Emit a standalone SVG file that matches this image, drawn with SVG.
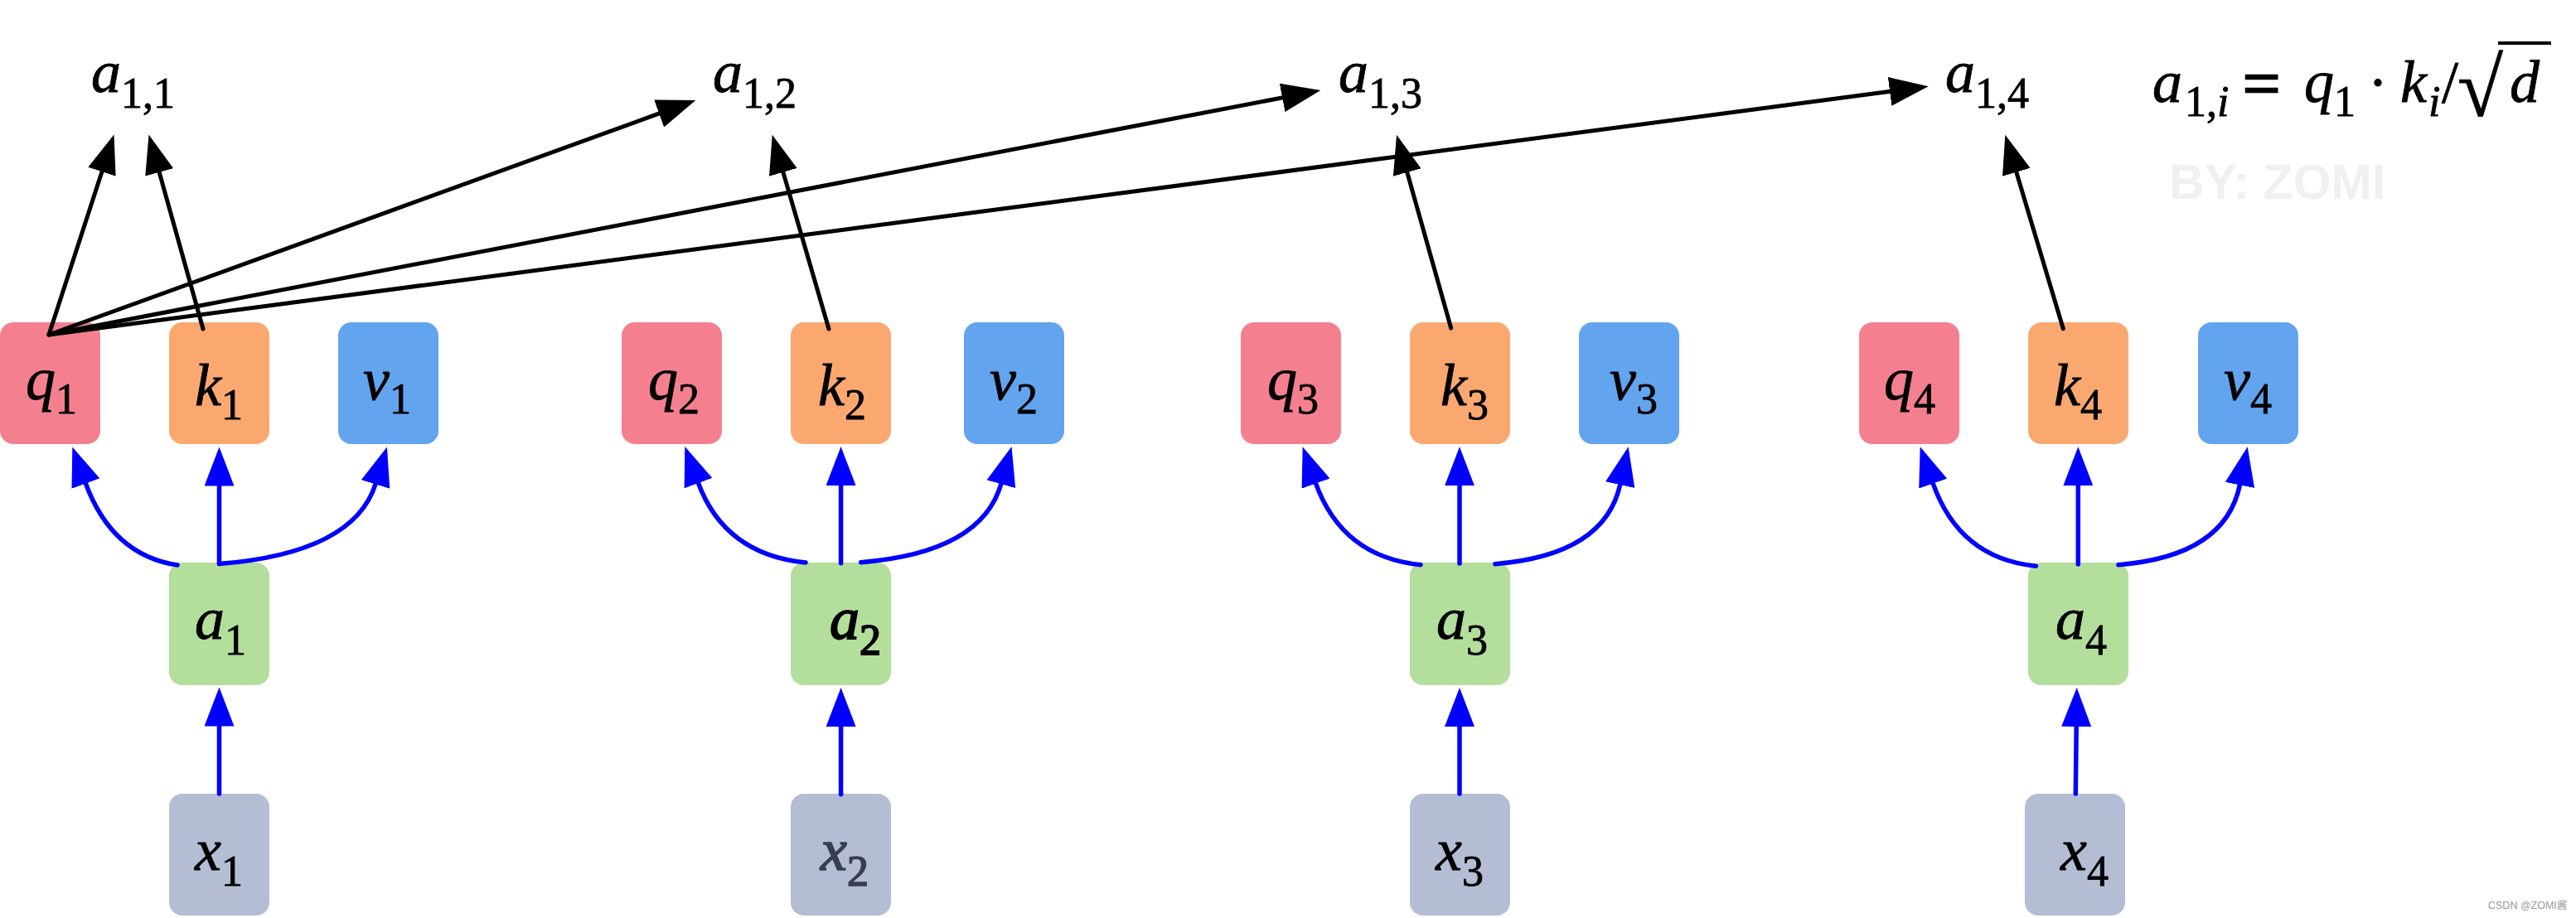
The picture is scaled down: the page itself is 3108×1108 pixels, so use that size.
<svg xmlns="http://www.w3.org/2000/svg" width="3108" height="1108" viewBox="0 0 3108 1108">
<style>
.box{stroke:none}
.q{fill:#F4808F}.k{fill:#FBA870}.v{fill:#62A4EE}.a{fill:#B3DE9C}.x{fill:#B4BDD3}
.t{font-style:italic;font-size:72px;fill:#000;stroke:#000;stroke-width:0.8}
.sub{font-style:normal;font-size:52px}
.blk{fill:none;stroke:#000;stroke-width:5;stroke-linecap:round;marker-end:url(#ahk)}
.blu{fill:none;stroke:#0000FF;stroke-width:5.5;stroke-linecap:round;marker-end:url(#ahb)}
</style>
<defs>
<marker id="ahk" viewBox="0 0 47 35" refX="1" refY="17.5" markerWidth="47" markerHeight="35" markerUnits="userSpaceOnUse" orient="auto"><path d="M0,0 L47,17.5 L0,35 z" fill="#000"/></marker>
<marker id="ahb" viewBox="0 0 47 36" refX="1" refY="18" markerWidth="47" markerHeight="36" markerUnits="userSpaceOnUse" orient="auto"><path d="M0,0 L47,18 L0,36 z" fill="#0000FF"/></marker>
</defs>
<rect width="3108" height="1108" fill="#fff"/>

<g font-family="Liberation Serif, Times New Roman, serif">
<!-- nodes -->
<g id="q1"><rect class="box q" x="0" y="389" width="121" height="147" rx="16"/><text class="t" font-family="Liberation Serif, serif" x="31" y="482">q<tspan class="sub" dy="17">1</tspan></text></g>
<g id="k1"><rect class="box k" x="204" y="389" width="121" height="147" rx="16"/><text class="t" font-family="Liberation Serif, serif" x="235" y="489">k<tspan class="sub" dy="17">1</tspan></text></g>
<g id="v1"><rect class="box v" x="408" y="389" width="121" height="147" rx="16"/><text class="t" font-family="Liberation Serif, serif" x="438" y="482">v<tspan class="sub" dy="17">1</tspan></text></g>
<g id="a1"><rect class="box a" x="204" y="679" width="121" height="148" rx="16"/><text class="t" font-family="Liberation Serif, serif" x="235" y="771">a<tspan class="sub" dy="19">1</tspan></text></g>
<g id="x1"><rect class="box x" x="204" y="958" width="121" height="147" rx="16"/><text class="t" font-family="Liberation Serif, serif" x="235" y="1050">x<tspan class="sub" dy="19">1</tspan></text></g>

<g id="q2"><rect class="box q" x="750" y="389" width="121" height="147" rx="16"/><text class="t" font-family="Liberation Serif, serif" x="782" y="482">q<tspan class="sub" dy="17">2</tspan></text></g>
<g id="k2"><rect class="box k" x="954" y="389" width="121" height="147" rx="16"/><text class="t" font-family="Liberation Serif, serif" x="987" y="489">k<tspan class="sub" dy="17">2</tspan></text></g>
<g id="v2"><rect class="box v" x="1163" y="389" width="121" height="147" rx="16"/><text class="t" font-family="Liberation Serif, serif" x="1194" y="482">v<tspan class="sub" dy="17">2</tspan></text></g>
<g id="a2"><rect class="box a" x="954" y="679" width="121" height="148" rx="16"/><text class="t" font-family="Liberation Serif, serif" x="1001" y="771" style="stroke-width:1.8">a<tspan class="sub" dy="19">2</tspan></text></g>
<g id="x2"><rect class="box x" x="954" y="958" width="121" height="147" rx="16"/><text class="t" font-family="Liberation Serif, serif" x="990" y="1050" style="fill:#383E50;stroke:#383E50;stroke-width:1.6">x<tspan class="sub" dy="19">2</tspan></text></g>

<g id="q3"><rect class="box q" x="1497" y="389" width="121" height="147" rx="16"/><text class="t" font-family="Liberation Serif, serif" x="1529" y="482">q<tspan class="sub" dy="17">3</tspan></text></g>
<g id="k3"><rect class="box k" x="1701" y="389" width="121" height="147" rx="16"/><text class="t" font-family="Liberation Serif, serif" x="1738" y="489">k<tspan class="sub" dy="17">3</tspan></text></g>
<g id="v3"><rect class="box v" x="1905" y="389" width="121" height="147" rx="16"/><text class="t" font-family="Liberation Serif, serif" x="1942" y="482">v<tspan class="sub" dy="17">3</tspan></text></g>
<g id="a3"><rect class="box a" x="1701" y="679" width="121" height="148" rx="16"/><text class="t" font-family="Liberation Serif, serif" x="1733" y="771">a<tspan class="sub" dy="19">3</tspan></text></g>
<g id="x3"><rect class="box x" x="1701" y="958" width="121" height="147" rx="16"/><text class="t" font-family="Liberation Serif, serif" x="1732" y="1050">x<tspan class="sub" dy="19">3</tspan></text></g>

<g id="q4"><rect class="box q" x="2243" y="389" width="121" height="147" rx="16"/><text class="t" font-family="Liberation Serif, serif" x="2273" y="482">q<tspan class="sub" dy="17">4</tspan></text></g>
<g id="k4"><rect class="box k" x="2447" y="389" width="121" height="147" rx="16"/><text class="t" font-family="Liberation Serif, serif" x="2478" y="489">k<tspan class="sub" dy="17">4</tspan></text></g>
<g id="v4"><rect class="box v" x="2652" y="389" width="121" height="147" rx="16"/><text class="t" font-family="Liberation Serif, serif" x="2683" y="482">v<tspan class="sub" dy="17">4</tspan></text></g>
<g id="a4"><rect class="box a" x="2447" y="679" width="121" height="148" rx="16"/><text class="t" font-family="Liberation Serif, serif" x="2480" y="771">a<tspan class="sub" dy="19">4</tspan></text></g>
<g id="x4"><rect class="box x" x="2443" y="958" width="121" height="147" rx="16"/><text class="t" font-family="Liberation Serif, serif" x="2486" y="1050">x<tspan class="sub" dy="19">4</tspan></text></g>

<g id="a11"><text class="t" font-family="Liberation Serif, serif" x="110" y="111">a<tspan class="sub" dy="19">1,1</tspan></text></g>
<g id="a12"><text class="t" font-family="Liberation Serif, serif" x="860" y="111">a<tspan class="sub" dy="19">1,2</tspan></text></g>
<g id="a13"><text class="t" font-family="Liberation Serif, serif" x="1615" y="111">a<tspan class="sub" dy="19">1,3</tspan></text></g>
<g id="a14"><text class="t" font-family="Liberation Serif, serif" x="2347" y="111">a<tspan class="sub" dy="19">1,4</tspan></text></g>
</g>

<!-- connectors -->
<g id="connectors">
<path class="blk" d="M59,404 L123.3,206.3"/>
<path class="blk" d="M245,397 L191.9,206.9"/>
<path class="blk" d="M59,404 L796.1,136.7"/>
<path class="blk" d="M59,404 L1548.1,117.7"/>
<path class="blk" d="M59,404 L2281.1,110.3"/>
<path class="blk" d="M1000,397 L944.6,206.9"/>
<path class="blk" d="M1750.7,396 L1697.5,207"/>
<path class="blk" d="M2489.3,396.7 L2432.5,206.8"/>

<path class="blu" d="M264.5,958 L264.5,875.5"/>
<path class="blu" d="M264.5,680.6 L264.5,585.5"/>
<path class="blu" d="M214,682 Q135,670 103.1,582.7"/>
<path class="blu" d="M264.5,680.6 Q427.2,667.6 453.3,583.5"/>

<path class="blu" d="M1014.6,958.8 L1014.6,876"/>
<path class="blu" d="M1014.6,679.7 L1014.6,585"/>
<path class="blu" d="M972,679 Q874.2,669.2 842.2,582.2"/>
<path class="blu" d="M1038.7,678.7 Q1184.6,667 1208.1,583.3"/>

<path class="blu" d="M1761,958 L1761,876"/>
<path class="blu" d="M1761,680 L1761,585.3"/>
<path class="blu" d="M1714,681.7 Q1619.4,672.2 1587.2,582.6"/>
<path class="blu" d="M1804,680.7 Q1936.3,670.1 1954.9,584.2"/>

<path class="blu" d="M2504.3,958 L2505.2,876"/>
<path class="blu" d="M2507.3,681 L2507.3,585.3"/>
<path class="blu" d="M2456.4,683.3 Q2363.9,674.1 2331.9,582.7"/>
<path class="blu" d="M2556,681.7 Q2685.1,671.4 2702.6,584.4"/>
</g>

<!-- formula -->
<g id="formula" font-family="Liberation Serif, serif">
<text class="t" font-family="Liberation Serif, serif" x="2597" y="123">a<tspan class="sub" x="2636" y="140">1,</tspan><tspan font-size="52" y="140">i</tspan></text>
<text class="t" font-family="Liberation Serif, serif" x="2706" y="128" style="font-style:normal;font-size:80px;stroke-width:2.5">=</text>
<text class="t" font-family="Liberation Serif, serif" x="2780" y="123">q<tspan class="sub" x="2816" y="140">1</tspan></text>
<text class="t" font-family="Liberation Serif, serif" x="2869" y="124" text-anchor="middle" style="font-style:normal">·</text>
<text class="t" font-family="Liberation Serif, serif" x="2896" y="123">k<tspan font-size="52" x="2930" y="140">i</tspan></text>
<text class="t" font-family="Liberation Serif, serif" x="2946" y="123" style="font-style:normal">/</text>
<text class="t" font-family="Liberation Serif, serif" x="2965" y="140" style="font-style:normal;font-size:100px">√</text>
<line x1="3014" y1="52" x2="3078" y2="52" stroke="#000" stroke-width="4"/>
<text class="t" font-family="Liberation Serif, serif" x="3028" y="123">d</text>
</g>

<text x="2617" y="240" font-family="Liberation Sans, Arial, sans-serif" font-weight="bold" font-size="59" fill="#F0F0F0">BY: ZOMI</text>
<text x="3002" y="1097" font-family="Liberation Sans, Noto Sans CJK SC, sans-serif" font-size="12.5" fill="#999999">CSDN @ZOMI酱</text>
</svg>
